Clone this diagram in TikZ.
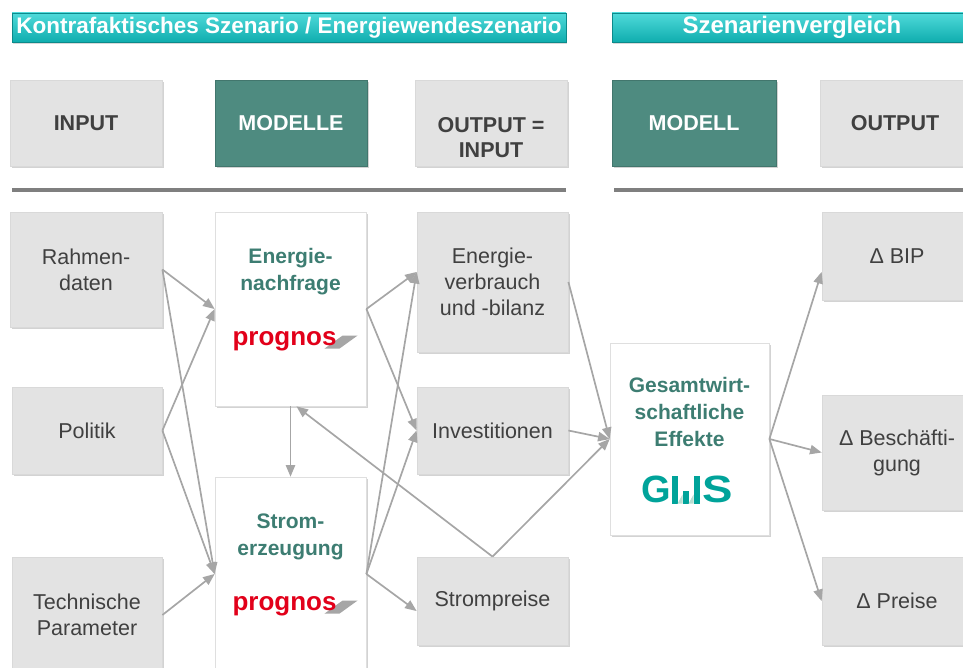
\documentclass[tikz,border=0pt]{standalone}
\usepackage{fontspec}
\setmainfont{Liberation Sans}
\usepackage{xcolor}
\usepackage{tikz}
\usetikzlibrary{positioning}
\usetikzlibrary{arrows,shadows}

\definecolor{kastengrau}{HTML}{E3E3E3}
\definecolor{schrift}{HTML}{404040}
\definecolor{modellgruen}{HTML}{4E8B80}
\definecolor{titelgruen}{HTML}{3D7D72}
\definecolor{tuerkis}{HTML}{0FADAE}
\definecolor{tuerkishell}{HTML}{4FDADA}
\definecolor{pfeilgrau}{HTML}{A6A6A6}
\definecolor{liniengrau}{HTML}{7F7F7F}
\definecolor{prognosrot}{HTML}{E2001A}
\definecolor{gwsgruen}{HTML}{00A39A}
\definecolor{gwshell}{HTML}{B7DED2}

\begin{document}
\begin{tikzpicture}[x=1pt,y=-1pt,
   kasten/.style={rectangle,fill=kastengrau,draw=gray!30,line width=0.8pt,
      drop shadow={shadow xshift=1.5pt,shadow yshift=-2pt,opacity=0.35},
      text=schrift,align=center,inner sep=0pt,minimum width=152pt,
      font=\fontsize{21.5}{26}\selectfont},
   kopf/.style={kasten,minimum height=86pt,font=\bfseries\fontsize{21.5}{25}\selectfont},
   modkopf/.style={kopf,fill=modellgruen,draw=modellgruen!85!black,text=white},
   modell/.style={kasten,fill=white,draw=gray!25},
   titel/.style={text=titelgruen,align=center,inner sep=0pt,
      font=\bfseries\fontsize{21}{27}\selectfont},
   balken/.style={rectangle,top color=tuerkishell,bottom color=tuerkis,
      draw=tuerkis!80!black,line width=0.6pt,text=white,inner sep=0pt,
      minimum height=29pt,font=\bfseries\fontsize{22.5}{26}\selectfont,
      drop shadow={shadow xshift=1pt,shadow yshift=-2pt,opacity=0.3}},
   prognos/.style={text=prognosrot,inner sep=0pt,font=\bfseries\fontsize{26}{26}\selectfont},
   gws/.style={text=gwsgruen,inner sep=0pt,font=\bfseries\fontsize{38}{38}\selectfont},
   trennlinie/.style={draw=liniengrau,line width=3.5pt},
   pfeil/.style={-triangle 45,draw=pfeilgrau,line width=1.7pt}]

   \useasboundingbox (0,0) rectangle (963,668);
   \clip (0,0) rectangle (963,668);

   % Kopfzeile
   \node[balken,minimum width=554pt] (kontra) at (289,27.5) {Kontrafaktisches Szenario / Energiewendeszenario};
   \node[balken,minimum width=360pt,font=\bfseries\fontsize{24}{26}\selectfont] (vergleich) at (792,27.5) {Szenarienvergleich};

   \node[kopf] (input) at (86,123) {INPUT};
   \node[modkopf] (modelle) at (291,123.5) {MODELLE};
   \node[kopf] (zwischen) at (491,123.5) {};
   \node[text=schrift,align=center,font=\bfseries\fontsize{21.5}{25}\selectfont] (zwischenText) at ([yshift=-14pt]zwischen.center) {OUTPUT =\\INPUT};
   \node[modkopf,minimum width=164pt] (modell) at (694,123.5) {MODELL};
   \node[kopf,minimum width=150pt] (output) at (895,123.5) {OUTPUT};

   \draw[trennlinie] (12,190) -- (566,190);
   \draw[trennlinie] (614,190) -- (970,190);

   % Input
   \node[kasten,minimum height=115pt] (rahmen) at (86,269.5) {Rahmen-\\daten};
   \node[kasten,minimum width=150pt,minimum height=87pt] (politik) at (87,430.5) {Politik};
   \node[kasten,minimum width=150pt,minimum height=116pt] (technik) at (87,615) {Technische\\Parameter};

   % Modelle
   \node[modell,minimum width=151pt,minimum height=194pt] (nachfrage) at (290.5,309) {};
   \node[titel] (nachfrageTitel) at ([yshift=-60pt]nachfrage.north) {Energie-\\nachfrage};
   \coordinate (nachfrageMarke) at ([xshift=-6pt,yshift=-134pt]nachfrage.north);
   \fill[pfeilgrau] ([shift={(40,3)}]nachfrageMarke) -- ([shift={(55,3)}]nachfrageMarke)
      -- ([shift={(73,-10)}]nachfrageMarke) -- ([shift={(58,-10)}]nachfrageMarke) -- cycle;
   \node[prognos,anchor=base] (nachfrageLogo) at (nachfrageMarke) {prognos};

   \node[modell,minimum width=151pt,minimum height=194pt] (strom) at (290.5,574) {};
   \node[titel] (stromTitel) at ([yshift=-60pt]strom.north) {Strom-\\erzeugung};
   \coordinate (stromMarke) at ([xshift=-6pt,yshift=-134pt]strom.north);
   \fill[pfeilgrau] ([shift={(40,3)}]stromMarke) -- ([shift={(55,3)}]stromMarke)
      -- ([shift={(73,-10)}]stromMarke) -- ([shift={(58,-10)}]stromMarke) -- cycle;
   \node[prognos,anchor=base] (stromLogo) at (stromMarke) {prognos};

   % Output = Input
   \node[kasten,minimum width=151pt,minimum height=140pt] (verbrauch) at (492.5,282) {Energie-\\verbrauch\\und -bilanz};
   \node[kasten,minimum width=151pt,minimum height=87pt] (invest) at (492.5,430.5) {Investitionen};
   \node[kasten,minimum width=151pt,minimum height=88pt] (preise) at (492.5,601) {Strompreise};

   % Modell
   \node[modell,minimum width=159pt,minimum height=192pt] (gesamt) at (689.5,439) {};
   \node[titel] (gesamtTitel) at ([yshift=-69pt]gesamt.north) {Gesamtwirt-\\schaftliche\\Effekte};
   \coordinate (gwsMarke) at ([yshift=-147pt]gesamt.north);
   \node[gws,anchor=west] (gwsG) at ([xshift=-48pt]gwsMarke) {G};
   \node[gws,anchor=west,xscale=1.2] (gwsS) at ([xshift=13pt]gwsMarke) {S};
   \fill[gwsgruen] ([shift={(-18,-14)}]gwsMarke) rectangle ([shift={(-12,14)}]gwsMarke);
   \fill[gwsgruen] ([shift={(-7,1)}]gwsMarke) rectangle ([shift={(-1,14)}]gwsMarke);
   \fill[gwsgruen] ([shift={(4,-14)}]gwsMarke) rectangle ([shift={(10,14)}]gwsMarke);
   \fill[gwshell] ([shift={(-12,14)}]gwsMarke) -- ([shift={(-7,14)}]gwsMarke) -- ([shift={(-7,5)}]gwsMarke) -- cycle;
   \fill[gwshell] ([shift={(-1,14)}]gwsMarke) -- ([shift={(4,14)}]gwsMarke) -- ([shift={(4,5)}]gwsMarke) -- cycle;

   % Output
   \node[kasten,minimum width=150pt,minimum height=88pt] (bip) at (897,256) {Δ BIP};
   \node[kasten,minimum width=150pt,minimum height=115pt] (beschaeft) at (897,452.5) {Δ Beschäfti-\\gung};
   \node[kasten,minimum width=150pt,minimum height=88pt] (preis) at (897,601) {Δ Preise};

   % Pfeile
   \draw[pfeil] (rahmen.east) -- (nachfrage.west);
   \draw[pfeil] (rahmen.east) -- (strom.west);
   \draw[pfeil] (politik.east) -- (nachfrage.west);
   \draw[pfeil] (politik.east) -- (strom.west);
   \draw[pfeil] (technik.east) -- (strom.west);

   \draw[pfeil] (nachfrage.east) -- ([yshift=10pt]verbrauch.west);
   \draw[pfeil] (nachfrage.east) -- (invest.west);
   \draw[pfeil] (nachfrage.south) -- (strom.north);
   \draw[pfeil] (strom.east) -- ([yshift=10pt]verbrauch.west);
   \draw[pfeil] (strom.east) -- (invest.west);
   \draw[pfeil] (strom.east) -- ([yshift=-10pt]preise.west);
   \draw[pfeil] (preise.north) -- ([xshift=6pt]nachfrage.south);

   \draw[pfeil] (verbrauch.east) -- (gesamt.west);
   \draw[pfeil] (invest.east) -- (gesamt.west);
   \draw[pfeil] (preise.north) -- (gesamt.west);

   \draw[pfeil] (gesamt.east) -- ([yshift=-16pt]bip.west);
   \draw[pfeil] (gesamt.east) -- (beschaeft.west);
   \draw[pfeil] (gesamt.east) -- (preis.west);
\end{tikzpicture}
\end{document}
